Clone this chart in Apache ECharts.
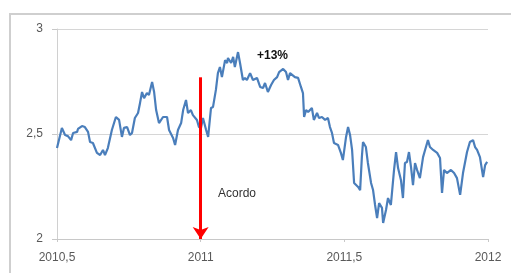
<!DOCTYPE html>
<html>
<head>
<meta charset="utf-8">
<script src="https://cdn.jsdelivr.net/npm/echarts@6/dist/echarts.min.js"></script>
<style>
  html, body { margin: 0; padding: 0; background: #fff; }
  #chart { width: 511px; height: 273px; }
</style>
</head>
<body>
<div id="chart"></div>
<script>
// decimal years and values
var dates = [
  2010.500, 2010.517, 2010.528, 2010.538, 2010.549, 2010.556, 2010.570, 2010.573, 2010.587, 2010.597,
  2010.608, 2010.615, 2010.625, 2010.639, 2010.650, 2010.660, 2010.667, 2010.677, 2010.691, 2010.705,
  2010.716, 2010.726, 2010.733, 2010.744, 2010.754, 2010.761, 2010.771, 2010.782, 2010.789, 2010.796,
  2010.803, 2010.813, 2010.820, 2010.831, 2010.838, 2010.845, 2010.855, 2010.869, 2010.883, 2010.890,
  2010.904, 2010.911, 2010.921, 2010.932, 2010.939, 2010.949, 2010.956, 2010.966, 2010.973, 2010.987,
  2010.994, 2011.001, 2011.008, 2011.019, 2011.026, 2011.036, 2011.043, 2011.053, 2011.060, 2011.067,
  2011.074, 2011.085, 2011.092, 2011.095, 2011.106, 2011.113, 2011.119, 2011.130, 2011.137, 2011.147,
  2011.154, 2011.161, 2011.172, 2011.182, 2011.196, 2011.207, 2011.217, 2011.224, 2011.234, 2011.245,
  2011.255, 2011.266, 2011.273, 2011.287, 2011.297, 2011.304, 2011.311, 2011.328, 2011.339, 2011.349,
  2011.356, 2011.360, 2011.367, 2011.374, 2011.387, 2011.394, 2011.405, 2011.412, 2011.422, 2011.433,
  2011.443, 2011.450, 2011.457, 2011.464, 2011.478, 2011.488, 2011.495, 2011.506, 2011.513, 2011.520,
  2011.527, 2011.534, 2011.548, 2011.555, 2011.561, 2011.565, 2011.575, 2011.582, 2011.593, 2011.600,
  2011.607, 2011.614, 2011.621, 2011.631, 2011.635, 2011.645, 2011.652, 2011.662, 2011.673, 2011.680,
  2011.687, 2011.697, 2011.704, 2011.711, 2011.718, 2011.725, 2011.732, 2011.739, 2011.746, 2011.753,
  2011.763, 2011.774, 2011.781, 2011.791, 2011.798, 2011.809, 2011.823, 2011.833, 2011.840, 2011.847,
  2011.857, 2011.871, 2011.882, 2011.892, 2011.903, 2011.913, 2011.927, 2011.937, 2011.948, 2011.955,
  2011.962, 2011.972, 2011.983, 2011.990, 2011.997
];
var values = [
  2.433, 2.529, 2.495, 2.490, 2.471, 2.505, 2.510, 2.524, 2.538, 2.533,
  2.510, 2.462, 2.457, 2.410, 2.400, 2.424, 2.400, 2.433, 2.519, 2.581,
  2.567, 2.486, 2.529, 2.533, 2.495, 2.505, 2.576, 2.600, 2.648, 2.700,
  2.671, 2.695, 2.686, 2.748, 2.700, 2.614, 2.552, 2.581, 2.581, 2.519,
  2.481, 2.448, 2.519, 2.552, 2.614, 2.662, 2.600, 2.614, 2.590, 2.567,
  2.533, 2.529, 2.576, 2.519, 2.486, 2.624, 2.629, 2.710, 2.790, 2.819,
  2.771, 2.852, 2.838, 2.862, 2.838, 2.867, 2.819, 2.890, 2.838, 2.757,
  2.767, 2.757, 2.790, 2.757, 2.767, 2.724, 2.719, 2.743, 2.700, 2.733,
  2.757, 2.771, 2.795, 2.810, 2.795, 2.757, 2.790, 2.771, 2.767, 2.724,
  2.695, 2.581, 2.614, 2.605, 2.624, 2.567, 2.600, 2.576, 2.581, 2.567,
  2.576, 2.533, 2.505, 2.457, 2.448, 2.410, 2.376, 2.486, 2.533, 2.495,
  2.424, 2.267, 2.248, 2.233, 2.390, 2.462, 2.438, 2.362, 2.267, 2.233,
  2.162, 2.100, 2.171, 2.148, 2.076, 2.138, 2.195, 2.162, 2.329, 2.414,
  2.338, 2.281, 2.195, 2.362, 2.367, 2.414, 2.343, 2.257, 2.362, 2.329,
  2.290, 2.390, 2.424, 2.471, 2.438, 2.424, 2.410, 2.386, 2.219, 2.329,
  2.314, 2.329, 2.314, 2.290, 2.210, 2.314, 2.414, 2.462, 2.471, 2.438,
  2.424, 2.390, 2.295, 2.352, 2.367
];
var xTicks = [2010.5, 2011, 2011.5, 2012];
var yTicks = [2, 2.5, 3];
var agreementDate = 2011;
var arrowTop = 2.77;

var points = dates.map(function (d, i) { return [d, values[i]]; });
var comma = function (v) { return String(v).replace('.', ','); };

var myChart = echarts.init(document.getElementById('chart'));
myChart.setOption({
  animation: false,
  backgroundColor: '#fff',
  grid: { left: 57, right: 23, top: 29, bottom: 34 },
  xAxis: {
    type: 'value',
    min: xTicks[0], max: xTicks[xTicks.length - 1], interval: 0.5,
    axisLine: { lineStyle: { color: '#c8c8c8', width: 1 } },
    axisTick: { show: true, length: 3, lineStyle: { color: '#c8c8c8' } },
    splitLine: { show: false },
    axisLabel: {
      formatter: comma, margin: 13, color: '#595959',
      fontFamily: 'Liberation Sans', fontSize: 12
    }
  },
  yAxis: {
    type: 'value',
    min: yTicks[0], max: yTicks[yTicks.length - 1], interval: 0.5,
    axisLine: { show: true, lineStyle: { color: '#d0d0d0', width: 1 } },
    axisTick: { show: true, length: 5, lineStyle: { color: '#c8c8c8' } },
    splitLine: { lineStyle: { color: '#d6d6d6', width: 1 } },
    axisLabel: {
      formatter: comma, margin: 14, color: '#595959',
      fontFamily: 'Liberation Sans', fontSize: 12
    }
  },
  series: [{
    type: 'line',
    data: points,
    showSymbol: false,
    lineStyle: { color: '#4a7ebb', width: 2.2 },
    markLine: {
      silent: true,
      clip: false,
      symbol: ['none', 'arrow'],
      symbolSize: 12,
      label: { show: false },
      lineStyle: { color: '#ff0000', width: 3, type: 'solid' },
      itemStyle: { color: '#ff0000' },
      data: [[{ coord: [agreementDate, arrowTop] }, { coord: [agreementDate, yTicks[0]] }]]
    }
  }],
  graphic: [
    {
      type: 'rect', silent: true,
      shape: { x: 10, y: 14, width: 520, height: 290 },
      style: { fill: 'none', stroke: '#cfcfcf', lineWidth: 2 }
    },
    {
      type: 'text', left: 257, top: 50,
      style: { text: '+13%', fill: '#111', font: 'bold 12px Liberation Sans' }
    },
    {
      type: 'text', left: 218, top: 188,
      style: { text: 'Acordo', fill: '#333', font: '12px Liberation Sans' }
    }
  ]
});
</script>
</body>
</html>
